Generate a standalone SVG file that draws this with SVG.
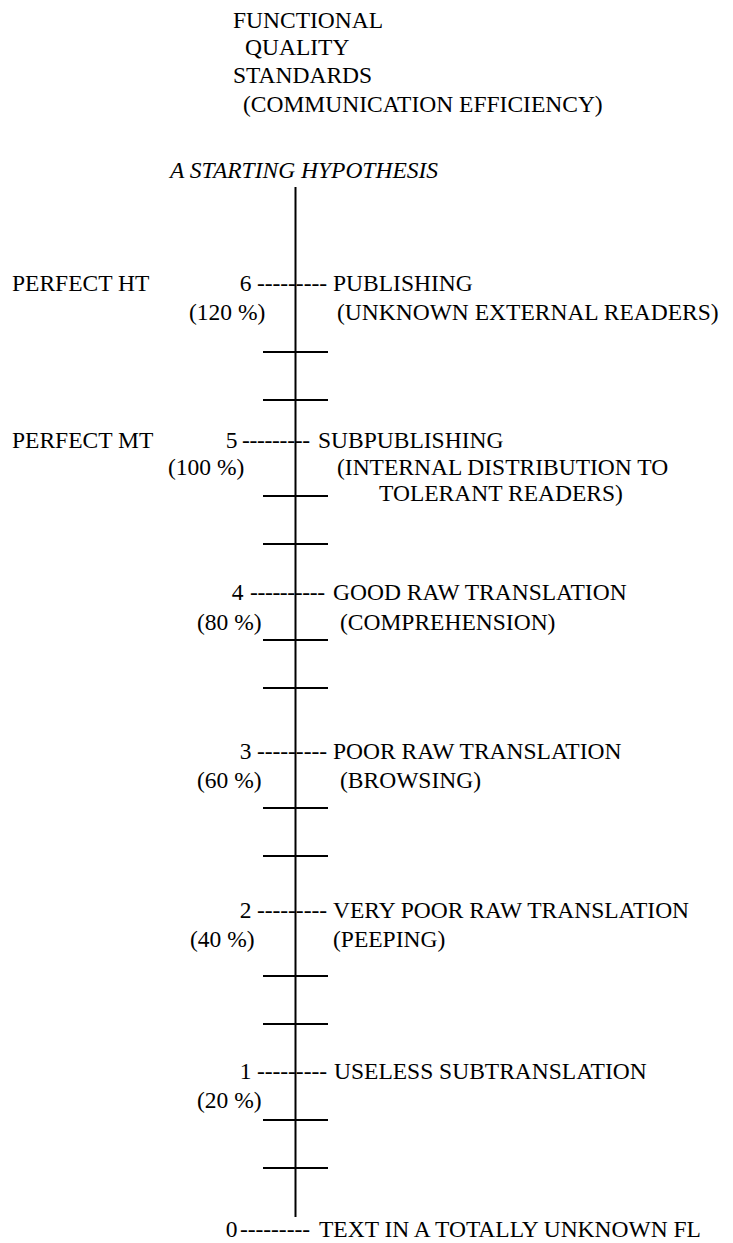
<svg xmlns="http://www.w3.org/2000/svg" width="733" height="1243" viewBox="0 0 733 1243" font-family="'Liberation Serif', Tinos, 'Times New Roman', Times, serif">
<style>
text{font-family:"Liberation Serif",Tinos,"Times New Roman",Times,serif;font-size:23.5px;fill:#000}
.it{font-style:italic}
.n{text-anchor:end}
.ax{stroke:#000;stroke-width:2;fill:none}
</style>
<rect width="733" height="1243" fill="#fff"/>
<g id="title">
<text x="233" y="28">FUNCTIONAL</text>
<text x="245" y="55">QUALITY</text>
<text x="233" y="83">STANDARDS</text>
<text x="243" y="112">(COMMUNICATION EFFICIENCY)</text>
<text class="it" x="170" y="178">A STARTING HYPOTHESIS</text>
</g>
<g id="connectors">
<line class="ax" x1="295.5" y1="187" x2="295.5" y2="1217"/>
<line class="ax" x1="263" y1="352" x2="328" y2="352"/>
<line class="ax" x1="263" y1="400" x2="328" y2="400"/>
<line class="ax" x1="263" y1="496" x2="328" y2="496"/>
<line class="ax" x1="263" y1="544" x2="328" y2="544"/>
<line class="ax" x1="263" y1="640" x2="328" y2="640"/>
<line class="ax" x1="263" y1="688" x2="328" y2="688"/>
<line class="ax" x1="263" y1="808" x2="328" y2="808"/>
<line class="ax" x1="263" y1="856" x2="328" y2="856"/>
<line class="ax" x1="263" y1="976" x2="328" y2="976"/>
<line class="ax" x1="263" y1="1024" x2="328" y2="1024"/>
<line class="ax" x1="263" y1="1120" x2="328" y2="1120"/>
<line class="ax" x1="263" y1="1168" x2="328" y2="1168"/>
</g>
<g id="level6">
<text x="12" y="291">PERFECT HT</text>
<text class="n" x="251.5" y="291">6</text>
<text x="257" y="291" textLength="70" lengthAdjust="spacing">---------</text>
<text x="333" y="291">PUBLISHING</text>
<text x="189" y="320">(120 %)</text>
<text x="337" y="320">(UNKNOWN EXTERNAL READERS)</text>
</g>
<g id="level5">
<text x="12" y="448">PERFECT MT</text>
<text class="n" x="237.5" y="448">5</text>
<text x="242" y="448" textLength="68" lengthAdjust="spacing">---------</text>
<text x="318" y="448">SUBPUBLISHING</text>
<text x="168" y="475">(100 %)</text>
<text x="337" y="475">(INTERNAL DISTRIBUTION TO</text>
<text x="379" y="501">TOLERANT READERS)</text>
</g>
<g id="level4">
<text class="n" x="243.5" y="600">4</text>
<text x="250" y="600" textLength="75" lengthAdjust="spacing">----------</text>
<text x="333" y="600">GOOD RAW TRANSLATION</text>
<text x="197" y="630">(80 %)</text>
<text x="340" y="630">(COMPREHENSION)</text>
</g>
<g id="level3">
<text class="n" x="251.5" y="759">3</text>
<text x="257" y="759" textLength="70" lengthAdjust="spacing">---------</text>
<text x="333" y="759">POOR RAW TRANSLATION</text>
<text x="197" y="788">(60 %)</text>
<text x="340" y="788">(BROWSING)</text>
</g>
<g id="level2">
<text class="n" x="251.5" y="918">2</text>
<text x="257" y="918" textLength="70" lengthAdjust="spacing">---------</text>
<text x="333" y="918">VERY POOR RAW TRANSLATION</text>
<text x="190" y="947">(40 %)</text>
<text x="333" y="947">(PEEPING)</text>
</g>
<g id="level1">
<text class="n" x="251.5" y="1079">1</text>
<text x="257" y="1079" textLength="70" lengthAdjust="spacing">---------</text>
<text x="334" y="1079">USELESS SUBTRANSLATION</text>
<text x="197" y="1108">(20 %)</text>
</g>
<g id="level0">
<text class="n" x="237.5" y="1237">0</text>
<text x="240" y="1237" textLength="70" lengthAdjust="spacing">---------</text>
<text x="319" y="1237">TEXT IN A TOTALLY UNKNOWN FL</text>
</g>
</svg>
